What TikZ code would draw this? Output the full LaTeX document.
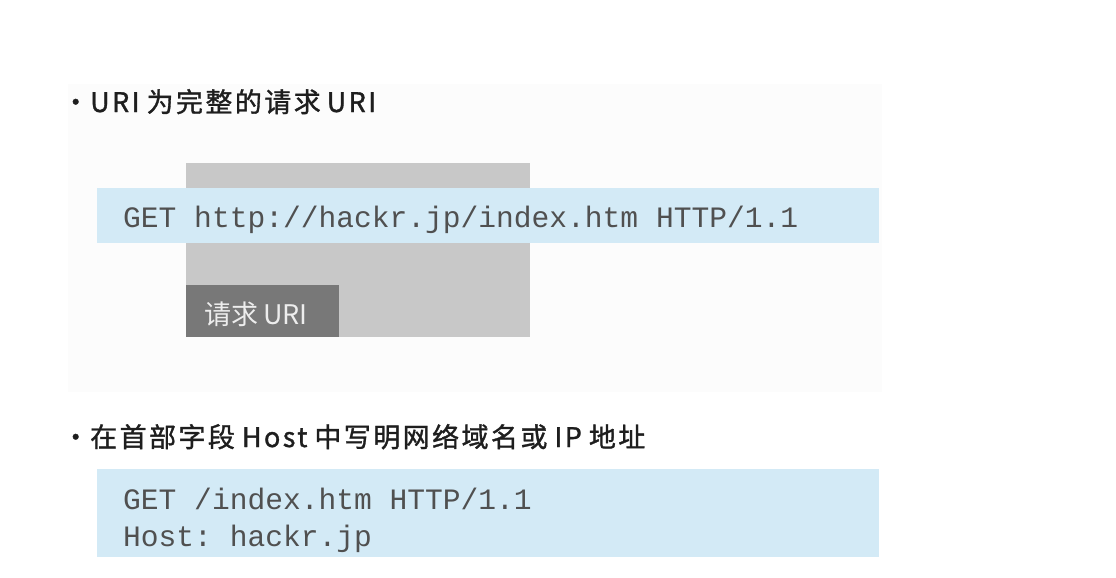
\documentclass[tikz,border=0pt]{standalone}
\usepackage{fontspec}
\setmonofont{Liberation Mono}
\newfontfamily\cjk{Noto Sans CJK SC}
\newfontfamily\cjksp{Noto Sans CJK SC}[LetterSpace=9,FakeBold=1.2]
\definecolor{bandblue}{HTML}{D3EAF6}
\definecolor{urigray}{HTML}{C8C8C8}
\definecolor{labelgray}{HTML}{787878}
\definecolor{titletext}{HTML}{1E1E1E}
\definecolor{codetext}{HTML}{505050}
\definecolor{faintbg}{HTML}{FCFCFC}
\tikzset{
  title/.style={anchor=base west, inner sep=0pt, text=titletext, font=\cjksp\fontsize{27}{32}\selectfont},
  code/.style={anchor=base west, inner sep=0pt, text=codetext, font=\ttfamily\fontsize{29.6}{36}\selectfont},
  labeltext/.style={anchor=base west, inner sep=0pt, text=white!93!black, font=\cjk\fontsize{27}{32}\selectfont},
}
\begin{document}
\begin{tikzpicture}[x=1pt,y=-1pt]
\useasboundingbox (0,0) rectangle (1116,578);
\fill[white] (0,0) rectangle (1116,578);
\fill[faintbg] (68,84) rectangle (882,392);
% section 1
\node[title] (t1) at (62,112) {・\hspace{1pt}URI\hspace{7pt}为完整的请求\hspace{6pt}URI};
\fill[urigray] (186,163) rectangle (530,337);
\fill[bandblue] (97,188) rectangle (879,243);
\node[code] (c1) at (123,227) {GET http://hackr.jp/index.htm HTTP/1.1};
\fill[labelgray] (186,285) rectangle (339,337);
\node[labeltext] (lab) at (204,324) {请求\hspace{5pt}URI};
% section 2
\node[title] (t2) at (62,447) {・\hspace{1pt}在首部字段\hspace{7pt}Host\hspace{7pt}中写明网络域名或\hspace{7pt}IP\hspace{7pt}地址};
\fill[bandblue] (97,469) rectangle (879,557);
\node[code] (c2) at (123,509) {GET /index.htm HTTP/1.1};
\node[code] (c3) at (123,546) {Host: hackr.jp};
\end{tikzpicture}
\end{document}
